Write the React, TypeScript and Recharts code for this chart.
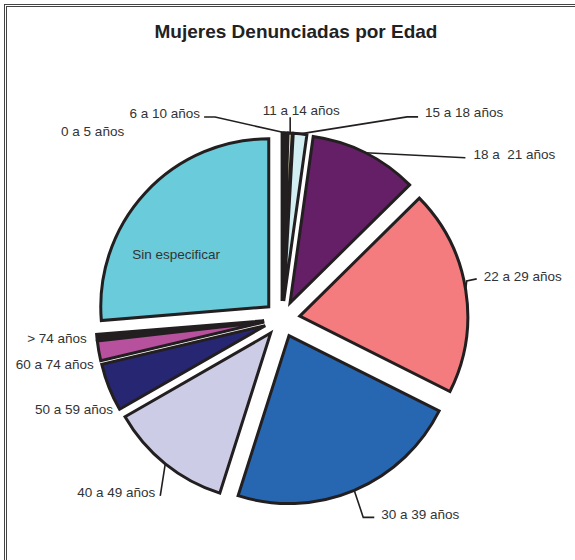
import { PieChart, Pie, Cell, Sector } from "recharts";

// age groups, clockwise from 12 o'clock
const categories = [
  "0 a 5 años",
  "6 a 10 años",
  "11 a 14 años",
  "15 a 18 años",
  "18 a  21 años",
  "22 a 29 años",
  "30 a 39 años",
  "40 a 49 años",
  "50 a 59 años",
  "60 a 74 años",
  "> 74 años",
  "Sin especificar",
];

// share of reported women, in %
const shares = [0.2, 0.3, 0.4, 1.3, 10.4, 19.8, 22.5, 11.8, 4.6, 1.9, 0.5, 26.3];

const sliceColors = [
  "#8E8FD0",
  "#3A1E4E",
  "#F3F1C4",
  "#D3EEF3",
  "#651F67",
  "#F47C7F",
  "#2767B1",
  "#CCCCE6",
  "#262673",
  "#B7509D",
  "#231F20",
  "#6ACBDA",
];

const data = categories.map((name, i) => ({ name, value: shares[i] }));

const RADIAN = Math.PI / 180;
const EXPLODE = 18;
const INK = "#231F20";
const FONT = 'Arial, "Liberation Sans", Helvetica, sans-serif';

// leader bends and text spot, relative to the middle of each (exploded) arc
type Layout = { path: number[][]; text: number[]; anchor: "start" | "end" | "middle" };
const labelLayout: Record<string, Layout> = {
  "0 a 5 años": { path: [], text: [-159, -2], anchor: "end" },
  "6 a 10 años": { path: [[-71, -16], [-82, -16]], text: [-86, -20], anchor: "end" },
  "11 a 14 años": { path: [[0, -16]], text: [11, -23], anchor: "middle" },
  "15 a 18 años": { path: [[107, -17], [118, -17]], text: [125, -21], anchor: "start" },
  "18 a  21 años": { path: [[100, 5]], text: [108, 2], anchor: "start" },
  "22 a 29 años": { path: [[1, -9], [11, -11]], text: [18, -13], anchor: "start" },
  "30 a 39 años": { path: [[9, 27], [20, 27]], text: [27, 24], anchor: "start" },
  "40 a 49 años": { path: [[-5, 32]], text: [-10, 29], anchor: "end" },
  "50 a 59 años": { path: [], text: [4, 22], anchor: "end" },
  "60 a 74 años": { path: [], text: [-5, 14], anchor: "end" },
  "> 74 años": { path: [], text: [-10, 1], anchor: "end" },
  "Sin especificar": { path: [], text: [31, 62], anchor: "middle" },
};

const ExplodedSector = (props: any) => {
  const { cx, cy, midAngle } = props;
  const dx = EXPLODE * Math.cos(-midAngle * RADIAN);
  const dy = EXPLODE * Math.sin(-midAngle * RADIAN);
  return (
    <Sector
      {...props}
      cx={cx + dx}
      cy={cy + dy}
      stroke={INK}
      strokeWidth={3}
      strokeLinejoin="miter"
    />
  );
};

const SliceLabel = (props: any) => {
  const { cx, cy, midAngle, outerRadius, index } = props;
  const name = categories[index];
  const lay = labelLayout[name];
  const r = outerRadius + EXPLODE;
  const ax = cx + r * Math.cos(-midAngle * RADIAN);
  const ay = cy + r * Math.sin(-midAngle * RADIAN);
  const pts = [[0, 0], ...lay.path].map(([x, y]) => `${ax + x},${ay + y}`).join(" ");
  return (
    <g>
      {lay.path.length > 0 && (
        <polyline points={pts} fill="none" stroke={INK} strokeWidth={1.6} />
      )}
      <text
        x={ax + lay.text[0]}
        y={ay + lay.text[1]}
        textAnchor={lay.anchor}
        dominantBaseline="central"
        fill="#333"
        fontSize={13.5}
        fontFamily={FONT}
        style={{ whiteSpace: "pre" }}
      >
        {name}
      </text>
    </g>
  );
};

export default function App() {
  return (
    <div
      style={{
        position: "absolute",
        left: 0,
        top: 0,
        width: 575,
        height: 560,
        overflow: "hidden",
        background: "#fff",
      }}
    >
      <div
        style={{
          position: "absolute",
          left: 4,
          top: 4,
          width: 620,
          height: 620,
          borderTop: "3px double #444",
          borderLeft: "3px double #444",
        }}
      />
      <div
        style={{
          position: "absolute",
          left: 0,
          top: 20,
          width: 592,
          textAlign: "center",
          fontFamily: FONT,
          fontWeight: "bold",
          fontSize: 19,
          lineHeight: "24px",
          color: "#222",
        }}
      >
        Mujeres Denunciadas por Edad
      </div>
      <div style={{ position: "absolute", left: 0, top: 0 }}>
        <PieChart width={575} height={560}>
          <Pie
            data={data}
            dataKey="value"
            nameKey="name"
            cx={277}
            cy={314}
            outerRadius={168}
            startAngle={90}
            endAngle={-270}
            shape={ExplodedSector}
            label={SliceLabel}
            labelLine={false}
            isAnimationActive={false}
          >
            {data.map((entry, index) => (
              <Cell key={`cell-${index}`} fill={sliceColors[index]} />
            ))}
          </Pie>
        </PieChart>
      </div>
    </div>
  );
}
